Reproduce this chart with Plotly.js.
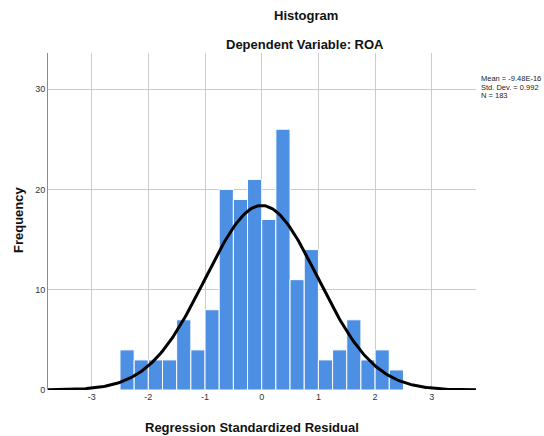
<!DOCTYPE html>
<html>
<head>
<meta charset="utf-8">
<script src="https://cdn.plot.ly/plotly-3.0.1.min.js"></script>
<style>html,body{margin:0;padding:0;background:#fff}#chart{width:544px;height:436px}</style>
</head>
<body>
<div id="chart"></div>
<script>
// Bin starts (bin width 0.25) and frequencies
const binStarts = [-2.5,-2.25,-2.0,-1.75,-1.5,-1.25,-1.0,-0.75,-0.5,-0.25,0.0,0.25,0.5,0.75,1.0,1.25,1.5,1.75,2.0,2.25];
const counts    = [4,3,3,3,7,4,8,20,19,21,17,26,11,14,3,4,7,3,4,2];
const binWidth = 0.25;
const statMean = -9.48e-16;
const statSD = 0.992;
const statN = 183;
const legendLines = ["Mean = -9.48E-16", "Std. Dev. = 0.992", "N = 183"];
const xTicks = [-3,-2,-1,0,1,2,3];
const yTicks = [0,10,20,30];

const xRange = [-3.77, 3.78];
const centres = binStarts.map(s => s + binWidth/2);

// normal curve overlay defined by the chart's own stats
const cx = [], cy = [];
const steps = 300;
for (let i = 0; i <= steps; i++) {
  const x = xRange[0] + (xRange[1]-xRange[0]) * i / steps;
  const z = (x - statMean) / statSD;
  cx.push(x);
  cy.push(statN * binWidth * Math.exp(-0.5*z*z) / (statSD * Math.sqrt(2*Math.PI)));
}

const font = "Liberation Sans, Arial, sans-serif";
const data = [
  {type:'bar', x: centres, y: counts, width: binWidth,
   marker:{color:'#4c8fe3', line:{color:'#ffffff', width:1}}, hoverinfo:'x+y'},
  {type:'scatter', mode:'lines', x: cx, y: cy, line:{color:'#000000', width:3}, hoverinfo:'skip'}
];

const L = 48, R = 476, T = 53, B = 390;
const px = v => (v - L) / (R - L);
const py = v => (B - v) / (B - T);

const annotations = [
  {text:'<b>Histogram</b>', x: px(306), y: py(15)},
  {text:'<b>Dependent Variable: ROA</b>', x: px(305), y: py(44)},
  {text:'<b>Regression Standardized Residual</b>', x: px(252), y: py(428)},
  {text:'<b>Frequency</b>', x: px(18), y: py(220), textangle:-90}
].map(a => Object.assign({xref:'paper', yref:'paper', xanchor:'center', yanchor:'middle', showarrow:false,
  font:{family:font, size:13, color:'#111'}}, a));
legendLines.forEach((t, i) => {
  annotations.push({text:t, x: px(479), y: py(78 + 9*i), xref:'paper', yref:'paper', xanchor:'left', yanchor:'middle',
    showarrow:false, font:{family:font, size:7.5, color:'#222'}});
});

const layout = {
  width:544, height:436,
  margin:{l:L, r:544-R, t:T, b:436-B, pad:0},
  paper_bgcolor:'#fff', plot_bgcolor:'#fff',
  showlegend:false, bargap:0,
  xaxis:{range:xRange, tickvals:xTicks, ticktext:xTicks.map(String), showgrid:true, gridcolor:'#cccccc', gridwidth:1,
         zeroline:false, showline:false, ticks:'', tickfont:{family:font, size:9, color:'#333'}, fixedrange:true},
  yaxis:{range:[0,33.6], tickvals:yTicks, ticktext:yTicks.map(String), showgrid:true, gridcolor:'#cccccc', gridwidth:1,
         zeroline:false, showline:true, linecolor:'#8c8c8c', linewidth:1, ticks:'', tickfont:{family:font, size:9, color:'#333'}, fixedrange:true},
  annotations: annotations
};

Plotly.newPlot('chart', data, layout, {displayModeBar:false, staticPlot:true});
</script>
</body>
</html>
